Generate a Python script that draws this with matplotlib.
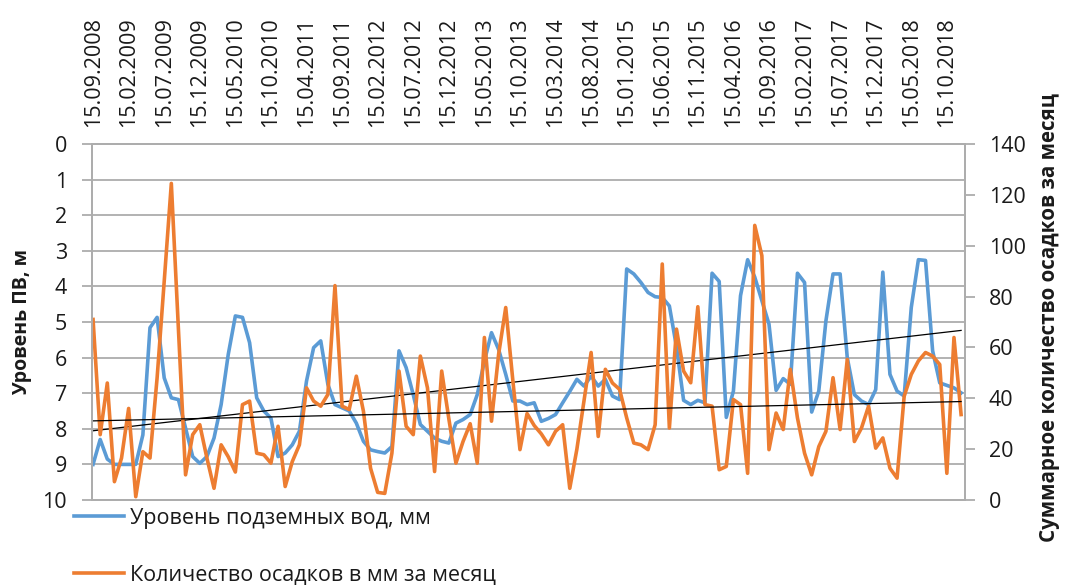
import matplotlib.pyplot as plt
import numpy as np

plt.rcParams['font.family'] = ['Open Sans', 'DejaVu Sans']

# category labels (every 5th point on the category axis)
dates = ['15.09.2008', '15.02.2009', '15.07.2009', '15.12.2009', '15.05.2010',
         '15.10.2010', '15.04.2011', '15.09.2011', '15.02.2012', '15.07.2012',
         '15.12.2012', '15.05.2013', '15.10.2013', '15.03.2014', '15.08.2014',
         '15.01.2015', '15.06.2015', '15.11.2015', '15.04.2016', '15.09.2016',
         '15.02.2017', '15.07.2017', '15.12.2017', '15.05.2018', '15.10.2018']

# groundwater level, m (left axis, reversed)
level = [9.0, 8.3, 8.85, 9.0, 9.0, 9.0, 9.0, 8.17, 5.16, 4.87,
         6.57, 7.13, 7.18, 7.98, 8.78, 8.97, 8.78, 8.26, 7.32, 5.91,
         4.83, 4.87, 5.58, 7.13, 7.5, 7.7, 8.78, 8.68, 8.45, 8.07,
         6.66, 5.72, 5.53, 6.75, 7.32, 7.41, 7.5, 7.84, 8.35, 8.59,
         8.64, 8.68, 8.5, 5.81, 6.28, 7.04, 7.88, 8.07, 8.26, 8.35,
         8.4, 7.84, 7.74, 7.6, 7.04, 6.1, 5.3, 5.77, 6.47, 7.22,
         7.22, 7.32, 7.27, 7.79, 7.71, 7.6, 7.27, 6.95, 6.61, 6.8,
         6.52, 6.8, 6.61, 7.08, 7.18, 3.51, 3.65, 3.89, 4.17, 4.29,
         4.31, 4.55, 5.7, 7.2, 7.32, 7.2, 7.27, 3.63, 3.86, 7.68,
         6.94, 4.26, 3.25, 3.74, 4.4, 5.06, 6.92, 6.59, 6.75, 3.63,
         3.89, 7.53, 6.94, 4.97, 3.65, 3.65, 6.0, 7.04, 7.22, 7.32,
         6.9, 3.6, 6.47, 6.94, 7.08, 4.59, 3.25, 3.27, 5.81, 6.71,
         6.78, 6.85, 6.99]

# monthly precipitation, mm (right axis)
precip = [71, 25.7, 46, 7.2, 16.5, 36, 1.3, 19, 16.5, 48,
          86, 124.5, 67, 9.9, 25.7, 29.6, 16.5, 4.6, 21.7, 17,
          11, 37.5, 38.9, 18.4, 17.8, 14.5, 29, 5.3, 15.1, 21.7,
          44.1, 38.9, 36.9, 41.5, 84.3, 36.9, 35.6, 48.7, 34.9, 12.5,
          3, 2.6, 18.4, 50.7, 29, 25.7, 56.6, 44.1, 11.2, 50.7,
          32, 14.5, 23, 30, 14.5, 63.9, 31, 57.3, 75.7, 47,
          19.8, 34, 29.3, 26, 21.7, 27, 29.6, 4.6, 20, 39,
          58, 25, 51.4, 46, 43.5, 32.3, 22.4, 21.7, 19.8, 29.6,
          92.8, 28.3, 67.2, 50.7, 46.1, 76, 37.5, 36.9, 11.9, 13.2,
          39.5, 37.5, 10.5, 108, 96.1, 19.8, 34.2, 27.7, 51.4, 32.3,
          18.4, 9.9, 21, 27, 48.1, 27.7, 55.3, 23, 28.3, 36.9,
          20.4, 24.4, 12.5, 8.6, 40.8, 49.4, 54.7, 58, 56.6, 53.3,
          10.5, 63.9, 33.6]

BLUE = '#5B9BD5'
ORANGE = '#ED7D31'
GRID = '#ADADAD'
TXT = '#1a1a1a'
FS = 15.5


def main():
    x = np.arange(len(level))

    fig = plt.figure(figsize=(10.66, 5.85), dpi=100)
    ax = fig.add_axes([92 / 1066, 1 - 500 / 585, (965 - 92) / 1066, (500 - 144) / 585])
    ax2 = ax.twinx()

    # groundwater level + linear trend
    l1, = ax.plot(x, level, color=BLUE, lw=2.6, solid_joinstyle='round')
    k, b = np.polyfit(x, level, 1)
    ax.plot(x, k * x + b, color='black', lw=0.9)

    # precipitation + linear trend
    l2, = ax2.plot(x, precip, color=ORANGE, lw=2.6, solid_joinstyle='round')
    k2, b2 = np.polyfit(x, precip, 1)
    ax2.plot(x, k2 * x + b2, color='black', lw=0.9)

    ax.set_xlim(-0.15, len(x) - 1 + 0.55)
    ax.set_ylim(10, 0)
    ax.set_yticks(range(0, 11))
    ax2.set_ylim(0, 140)
    ax2.set_yticks(range(0, 141, 20))

    ax.xaxis.set_ticks_position('top')
    ax.set_xticks(x[::5])
    ax.set_xticklabels(dates, rotation=90)
    ax.tick_params(axis='x', length=0, pad=12, labelsize=FS, labelcolor=TXT)
    ax.tick_params(axis='y', length=7, color=GRID, width=1.3, pad=11,
                   labelsize=FS, labelcolor=TXT)
    ax2.tick_params(axis='y', length=7, color=GRID, width=1.3, pad=10,
                    labelsize=FS, labelcolor=TXT)

    ax.grid(axis='y', color=GRID, lw=1.3)
    ax.set_axisbelow(True)
    for a in (ax, ax2):
        for s in a.spines.values():
            s.set_color(GRID)
            s.set_linewidth(1.3)

    fig.text(22 / 1066, 1 - 322 / 585, 'Уровень ПВ, м', rotation=90,
             ha='center', va='center', fontsize=14, fontweight='bold', color=TXT)
    fig.text(1049 / 1066, 1 - 318 / 585, 'Суммарное количество осадков за месяц',
             rotation=90, ha='center', va='center', fontsize=14.8,
             fontweight='bold', color=TXT)

    leg = fig.legend([l1, l2], ['Уровень подземных вод, мм',
                                'Количество осадков в мм за месяц'],
                     loc='upper left', bbox_to_anchor=(74 / 1066, 1 - 508 / 585),
                     frameon=False, fontsize=FS, handlelength=2.3,
                     handletextpad=0.3, labelspacing=1.65, borderpad=0,
                     borderaxespad=0)
    for t in leg.get_texts():
        t.set_color(TXT)

    fig.savefig('out.png', dpi=100)


if __name__ == '__main__':
    main()
